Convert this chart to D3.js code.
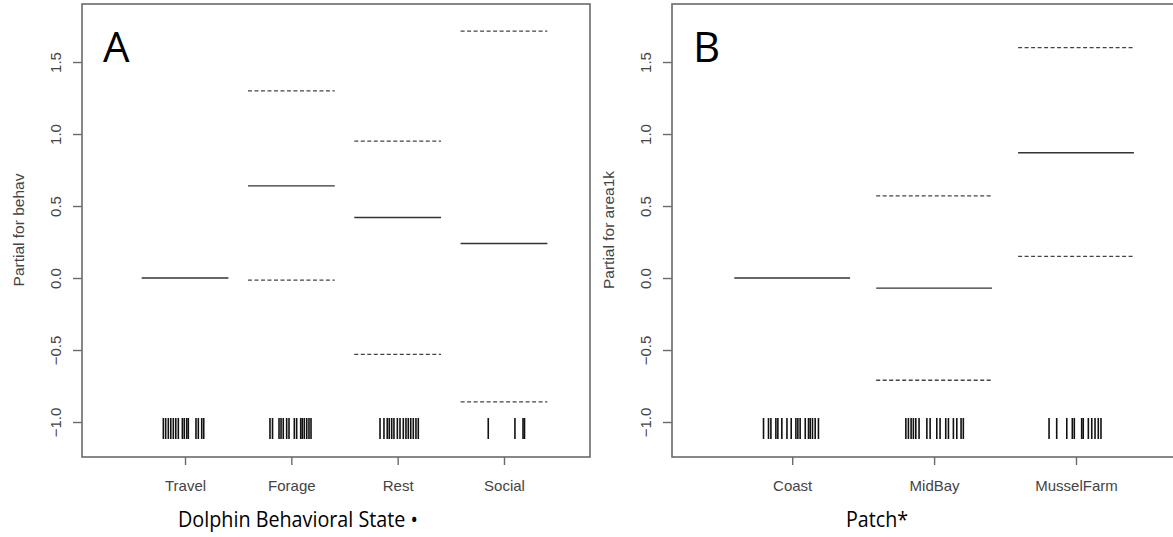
<!DOCTYPE html>
<html><head><meta charset="utf-8">
<script src="https://cdn.jsdelivr.net/npm/d3@7"></script>
<style>body{margin:0;background:#fff;} svg{display:block;}</style>
</head><body>
<svg id="c" width="1173" height="537"></svg>
<script>
// ---- Panel A data ----
const catsA = ["Travel", "Forage", "Rest", "Social"];
const fitA = [0, 0.64, 0.42, 0.24];
const upperA = [null, 1.30, 0.95, 1.715];
const lowerA = [null, -0.015, -0.53, -0.86];
const rugA = [
  0.796,0.818,0.843,0.866,0.890,0.913,0.937,0.975,0.993,1.016,1.031,1.103,1.125,1.157,1.176,
  1.799,1.823,1.884,1.903,1.924,1.956,1.978,2.028,2.050,2.088,2.103,2.122,2.145,2.166,2.185,
  2.834,2.871,2.902,2.921,2.944,2.965,2.997,3.022,3.053,3.078,3.100,3.123,3.147,3.172,3.194,
  3.852,4.103,4.179,4.193
];
// ---- Panel B data ----
const catsB = ["Coast", "MidBay", "MusselFarm"];
const fitB = [0, -0.07, 0.87];
const upperB = [null, 0.57, 1.60];
const lowerB = [null, -0.71, 0.15];
const rugB = [
  0.798,0.833,0.850,0.885,0.899,0.927,0.963,0.993,1.026,1.040,1.056,1.092,1.115,1.127,1.143,1.162,1.185,
  1.801,1.819,1.838,1.854,1.871,1.894,1.949,1.972,2.019,2.042,2.082,2.101,2.136,2.160,2.190,2.206,
  2.810,2.864,2.935,2.974,2.988,3.040,3.051,3.087,3.111,3.134,3.157,3.176
];
const yTicks = [-1.0, -0.5, 0.0, 0.5, 1.0, 1.5];
const yTitleA = "Partial for behav";
const yTitleB = "Partial for area1k";
const xTitleA = "Dolphin Behavioral State \u2022";
const xTitleB = "Patch*";

const svg = d3.select("#c");
const y = d3.scaleLinear().domain([-1.243, 1.903]).range([457, 4]);
const rFont = "Liberation Sans, Arial, sans-serif";

function panel(opt) {
  const x = d3.scaleLinear().domain(opt.xdom).range(opt.xr);
  const g = svg.append("g");
  const axisCol = "#6a6a6a";
  // box
  g.append("rect").attr("x", opt.xr[0]).attr("y", 4)
    .attr("width", opt.xr[1] - opt.xr[0]).attr("height", 453)
    .attr("fill", "none").attr("stroke", axisCol).attr("stroke-width", 1.6);
  // y axis
  const ya = g.append("g").attr("transform", `translate(${opt.xr[0]},0)`)
    .call(d3.axisLeft(y).tickValues(yTicks).tickFormat(d3.format(".1f")).tickSize(9).tickPadding(0));
  ya.select(".domain").remove();
  ya.selectAll(".tick line").attr("stroke", axisCol).attr("stroke-width", 1.4);
  ya.selectAll(".tick text").attr("fill", "#444").attr("font-family", rFont)
    .attr("font-size", 15).attr("text-anchor", "middle").attr("dy", 0)
    .attr("transform", "translate(-25,0) rotate(-90)").attr("x", 0).attr("y", 4);
  // x axis
  const xa = g.append("g").attr("transform", "translate(0,457)")
    .call(d3.axisBottom(x).tickValues(d3.range(1, opt.cats.length + 1))
      .tickFormat((d) => opt.cats[d - 1]).tickSize(8).tickPadding(15));
  xa.select(".domain").remove();
  xa.selectAll(".tick line").attr("stroke", axisCol).attr("stroke-width", 1.4);
  xa.selectAll(".tick text").attr("fill", "#444").attr("font-family", rFont)
    .attr("font-size", 15);
  // y title
  g.append("text").attr("transform", `translate(${opt.xr[0] - 58},230) rotate(-90)`)
    .attr("text-anchor", "middle").attr("font-family", rFont)
    .attr("font-size", 15.5).attr("fill", "#444").text(opt.ytitle);
  // fitted lines
  const half = 0.408;
  const idx = d3.range(opt.cats.length);
  g.selectAll(".fit").data(idx).join("line")
    .attr("x1", (i) => x(i + 1 - half)).attr("x2", (i) => x(i + 1 + half))
    .attr("y1", (i) => y(opt.fit[i])).attr("y2", (i) => y(opt.fit[i]))
    .attr("stroke", "#333").attr("stroke-width", 1.4);
  const bands = idx.filter((i) => opt.upper[i] !== null);
  [opt.upper, opt.lower].forEach((arr) => {
    g.selectAll(null).data(bands).join("line")
      .attr("x1", (i) => x(i + 1 - half)).attr("x2", (i) => x(i + 1 + half))
      .attr("y1", (i) => y(arr[i])).attr("y2", (i) => y(arr[i]))
      .attr("stroke", "#444").attr("stroke-width", 1.3).attr("stroke-dasharray", "4,2.5");
  });
  // rug
  g.selectAll(".rug").data(opt.rug).join("line")
    .attr("x1", (d) => x(d)).attr("x2", (d) => x(d))
    .attr("y1", y(-0.972)).attr("y2", y(-1.118))
    .attr("stroke", "#111").attr("stroke-width", 1.6);
  // panel letter
  g.append("text").attr("x", opt.letterX).attr("y", 62)
    .attr("font-family", "Open Sans, sans-serif").attr("font-size", 42).attr("fill", "#000").text(opt.letter);
  // bottom title
  g.append("text").attr("x", opt.titleX).attr("y", 527).attr("text-anchor", "middle")
    .attr("font-family", "Open Sans, sans-serif").attr("font-size", 21.5).attr("fill", "#000")
    .attr("textLength", opt.titleLen).attr("lengthAdjust", "spacingAndGlyphs").text(opt.xtitle);
}

panel({ cats: catsA, fit: fitA, upper: upperA, lower: lowerA, rug: rugA,
  xdom: [0.031, 4.809], xr: [82, 590], ytitle: yTitleA, xtitle: xTitleA,
  letter: "A", letterX: 103, titleX: 298, titleLen: 240 });
panel({ cats: catsB, fit: fitB, upper: upperB, lower: lowerB, rug: rugB,
  xdom: [0.153, 3.754], xr: [672, 1183], ytitle: yTitleB, xtitle: xTitleB,
  letter: "B", letterX: 693, titleX: 877, titleLen: 62 });
</script>
</body></html>
